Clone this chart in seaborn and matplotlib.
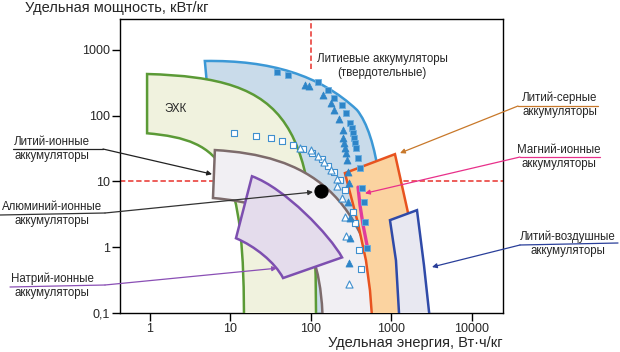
import matplotlib
matplotlib.use("Agg")
import matplotlib.pyplot as plt
from matplotlib.path import Path
from matplotlib.patches import PathPatch
from matplotlib.lines import Line2D
import seaborn as sns

# === 0. Data: specific energy (Wh/kg) vs specific power (W/kg) ===
x_ticks = [1, 10, 100, 1000, 10000]
x_tick_labels = ["1", "10", "100", "1000", "10000"]
y_ticks = [0.1, 1, 10, 100, 1000]
y_tick_labels = ["0,1", "1", "10", "100", "1000"]

M, C, L, Z = Path.MOVETO, Path.CURVE4, Path.LINETO, Path.CLOSEPOLY

# region boundaries (vertices + bezier control points)
solid_e = [4.8, 31, 129, 373, 661, 905, 830, 77, 77, 41, 5.25]
solid_p = [678, 702, 415, 122, 51, 5.2, 0.055, 0.055, 21, 173, 206]
solid_codes = [M, C, C, C, C, C, C, L, C, C, C]

supercap_e = [0.92, 55, 122, 115, 14.7, 15.1, 8.5, 0.92]
supercap_p = [430, 373, 86, 0.055, 0.055, 17.7, 42.5, 54]
arc_codes = [M, C, C, C, L, C, C, C]

li_ion_e = [6.4, 84, 541, 830, 141, 137, 55, 6.06]
li_ion_p = [30, 25, 7.4, 0.055, 0.055, 1.81, 4.4, 5.6]

na_ion_e = [18.5, 47.5, 172, 243, 45, 35.7, 20, 11.7]
na_ion_p = [12, 7.9, 1.52, 0.70, 0.34, 0.59, 1.04, 1.37]

li_s_e = [264, 1105, 1600, 2400, 590, 541, 482, 384]
li_s_p = [13.4, 26, 3.4, 0.055, 0.055, 0.22, 0.63, 2.3]

li_air_e = [958, 2075, 2535, 3100, 1276, 1137]
li_air_p = [2.58, 3.66, 0.53, 0.055, 0.055, 0.63]

mg_e = [384, 406, 443, 511]
mg_p = [8.2, 4.4, 2.2, 0.9]

al_e = [133]
al_p = [7.1]

# measured cells
sq_fill_e = [38, 52, 122, 163, 193, 243, 272, 305, 323, 332, 342, 352, 362, 384, 406, 430, 455, 469, 496]
sq_fill_p = [461, 415, 325, 245, 185, 145, 110, 77, 65, 54, 46, 38, 32, 23, 16, 7.9, 4.8, 2.4, 0.97]
tri_fill_e = [84, 94, 141, 177, 193, 223, 250, 250, 257, 264, 272, 280, 288, 297, 288, 305, 305, 297]
tri_fill_p = [292, 282, 206, 156, 122, 89, 60, 46, 38, 32, 27, 21, 14, 9.4, 4.8, 2.8, 1.4, 0.57]
sq_open_e = [11, 21, 32, 44, 60, 80, 103, 137, 163, 193, 229, 264, 332, 352, 395, 418]
sq_open_p = [54, 49, 46, 41, 36, 31, 27, 22, 17, 14, 10.5, 7.4, 3.4, 2.3, 0.9, 0.46]
tri_open_e = [73, 100, 122, 145, 177, 210, 210, 243, 264, 272, 297]
tri_open_p = [32, 30, 24, 20, 15, 11, 8.5, 5.6, 2.9, 1.5, 0.28]

# arrow targets (energy, power)
arrow_targets = {
    "li_ion": (5.9, 12.9),
    "al_ion": (106, 6.9),
    "na_ion": (37.8, 0.48),
    "li_s": (1276, 27),
    "mg_ion": (469, 6.6),
    "li_air": (3185, 0.5),
}

# === 1. Setup ===
sns.set_style("white")
plt.rcParams["font.family"] = ["Liberation Sans", "DejaVu Sans"]

W, H = 620, 352
fig = plt.figure(figsize=(W / 100, H / 100), dpi=100)
ax = fig.add_axes([120 / W, 1 - 313 / H, 383 / W, 294 / H])
ax.set_xscale("log")
ax.set_yscale("log")
ax.set_xlim(0.424, 24300)
ax.set_ylim(0.1, 2950)


def px(x, y):
    return (x / W, 1 - y / H)


def region(es, ps, codes, face, edge, z, lw=1.8):
    verts = list(zip(es, ps)) + [(es[0], ps[0])]
    cds = list(codes) + [Z]
    patch = PathPatch(Path(verts, cds), facecolor=face, edgecolor=edge,
                      lw=lw, zorder=z, joinstyle="miter")
    ax.add_patch(patch)


# === 2. Reference lines ===
ax.axhline(10, color="#e8322c", lw=1.1, dashes=(3.5, 1.8), zorder=1)
ax.plot([100, 100], [512, 2950], color="#e8322c", lw=1.1, dashes=(3.5, 1.8), zorder=1)

# === 3. Regions ===
region(solid_e, solid_p, solid_codes, "#c9dbea", "#3b98d6", 2)
region(supercap_e, supercap_p, arc_codes, "#f0f2de", "#5b9a36", 3)
region(li_ion_e, li_ion_p, arc_codes, "#f1eff3", "#7d6b6b", 4)
region(na_ion_e, na_ion_p, arc_codes, "#e4dcec", "#7d4fb0", 5)
region(li_s_e, li_s_p, [M] + [L] * 7, "#fbd3a0", "#e8531f", 6)
region(li_air_e, li_air_p, [M] + [L] * 5, "#e8e8f1", "#2f4aa8", 7)

sns.lineplot(x=mg_e, y=mg_p, sort=False, estimator=None, color="#e03c9c",
             lw=2.4, ax=ax, zorder=8)

# === 4. Measured points ===
sns.scatterplot(x=sq_open_e, y=sq_open_p, marker="s", s=20, color="white",
                edgecolor="#3f8fce", linewidth=0.8, ax=ax, zorder=9)
sns.scatterplot(x=tri_open_e, y=tri_open_p, marker="^", s=26, color="white",
                edgecolor="#3f8fce", linewidth=0.8, ax=ax, zorder=9)
sns.scatterplot(x=sq_fill_e, y=sq_fill_p, marker="s", s=20, color="#2e85c8",
                edgecolor="#6aaee0", linewidth=0.6, ax=ax, zorder=9)
sns.scatterplot(x=tri_fill_e, y=tri_fill_p, marker="^", s=26, color="#2e85c8",
                edgecolor="#2e85c8", linewidth=0.5, ax=ax, zorder=9)
sns.scatterplot(x=al_e, y=al_p, marker="o", s=90, color="black",
                edgecolor="black", ax=ax, zorder=10)

# === 5. Axes styling ===
ax.set_xticks(x_ticks)
ax.set_xticklabels(x_tick_labels)
ax.set_yticks(y_ticks)
ax.set_yticklabels(y_tick_labels)
ax.minorticks_off()
ax.tick_params(axis="both", which="major", direction="out", length=6,
               width=1.0, color="black", labelsize=9, pad=1.5,
               bottom=True, left=True)
for sp in ax.spines.values():
    sp.set_color("black")
    sp.set_linewidth(1.0)
ax.set_xlabel("")
ax.set_ylabel("")

fig.text(*px(25, 8), "Удельная мощность, кВт/кг", fontsize=10.5,
         ha="left", va="center")
fig.text(*px(503, 343), "Удельная энергия, Вт·ч/кг", fontsize=10.5,
         ha="right", va="center")

# === 6. Labels and leaders ===
lab = dict(fontsize=8.3, ha="center", va="center", linespacing=1.25)
fig.text(*px(382, 66), "Литиевые аккумуляторы\n(твердотельные)", **lab)
fig.text(*px(176, 109), "ЭХК", **lab)

labels = [
    ("li_ion", "Литий-ионные\nаккумуляторы", 52, 149, [(13, 149), (103, 149)], "#222222"),
    ("al_ion", "Алюминий-ионные\nаккумуляторы", 52, 214, [(0, 215), (105, 213)], "#333333"),
    ("na_ion", "Натрий-ионные\nаккумуляторы", 52, 286, [(10, 287), (105, 285)], "#8a4fb5"),
    ("li_s", "Литий-серные\nаккумуляторы", 560, 105, [(598, 106), (518, 106)], "#c8782a"),
    ("mg_ion", "Магний-ионные\nаккумуляторы", 559, 157, [(600, 157), (520, 157)], "#e8308a"),
    ("li_air", "Литий-воздушные\nаккумуляторы", 568, 244, [(618, 243), (520, 245)], "#2a3f9a"),
]
for key, txt, tx, ty, line, col in labels:
    fig.text(*px(tx, ty), txt, **lab)
    (x0, y0), (x1, y1) = line
    fig.add_artist(Line2D([x0 / W, x1 / W], [1 - y0 / H, 1 - y1 / H],
                          color=col, lw=0.9, transform=fig.transFigure))
    ax.annotate("", xy=arrow_targets[key], xycoords="data",
                xytext=px(x1, y1), textcoords="figure fraction",
                arrowprops=dict(arrowstyle="-|>", color=col, lw=0.9,
                                mutation_scale=7, shrinkA=0, shrinkB=0),
                zorder=11, annotation_clip=False)

fig.savefig("out.png", dpi=100)
